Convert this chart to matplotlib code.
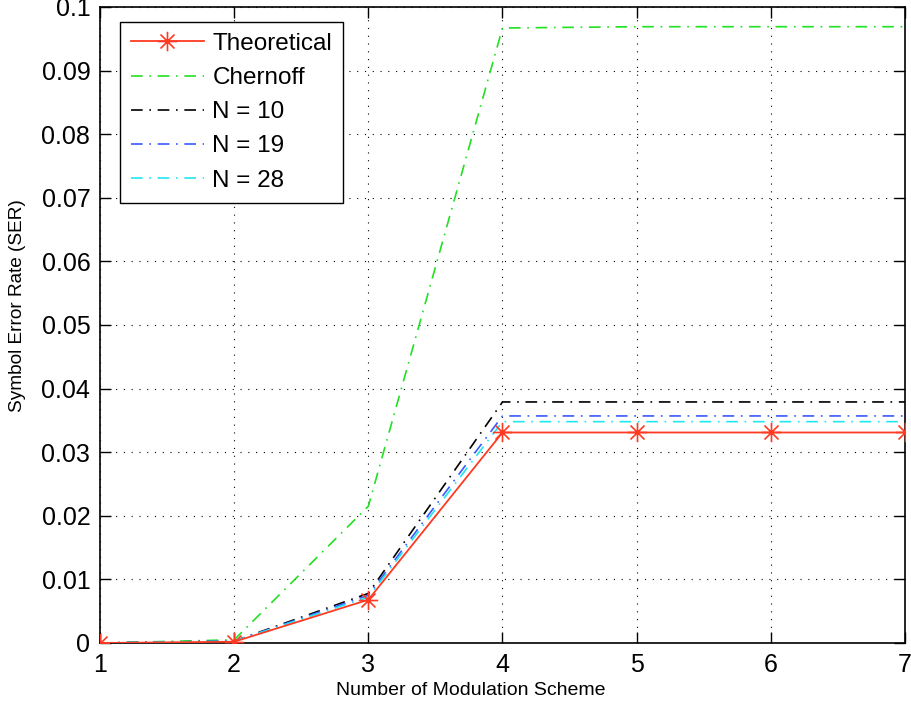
import numpy as np
import matplotlib
matplotlib.use("Agg")
from matplotlib import pyplot as plt
from matplotlib.path import Path

# SER vs modulation scheme index
schemes = [1, 2, 3, 4, 5, 6, 7]
ser_theory = [0.0, 0.0002, 0.0068, 0.0331, 0.0331, 0.0331, 0.0331]
ser_chernoff = [0.0, 0.0005, 0.0215, 0.0967, 0.0969, 0.0969, 0.0969]
ser_n10 = [0.0, 0.0003, 0.0078, 0.0379, 0.0379, 0.0379, 0.0379]
ser_n19 = [0.0, 0.0003, 0.0075, 0.0357, 0.0357, 0.0357, 0.0357]
ser_n28 = [0.0, 0.0003, 0.0072, 0.0348, 0.0348, 0.0348, 0.0348]

plt.rcParams['font.family'] = ['Liberation Sans', 'DejaVu Sans']

# asterisk marker made of line strokes (plus + cross)
d = 0.72
star_verts = [(0, -1), (0, 1), (-1, 0), (1, 0), (-d, -d), (d, d), (-d, d), (d, -d)]
star_codes = [Path.MOVETO, Path.LINETO] * 4
asterisk = Path(star_verts, star_codes)

fig = plt.figure(figsize=(9.12, 7.13), dpi=100)
ax = fig.add_axes([100 / 912, 1 - 643 / 713, 805 / 912, 636 / 713])

dashdot = (0, (7, 4, 1, 4))
ax.plot(schemes, ser_theory, color='#ff3a22', lw=1.3, marker=asterisk, ms=14,
        mew=1.2, mfc='none', label='Theoretical', zorder=5)
ax.plot(schemes, ser_chernoff, color='#22e022', lw=1.2, ls=dashdot, label='Chernoff')
ax.plot(schemes, ser_n10, color='black', lw=1.2, ls=dashdot, label='N = 10')
ax.plot(schemes, ser_n19, color='#3a5aff', lw=1.2, ls=dashdot, label='N = 19')
ax.plot(schemes, ser_n28, color='#22e6f0', lw=1.2, ls=dashdot, label='N = 28')

ax.set_xlim(1, 7)
ax.set_ylim(0, 0.1)
ax.set_xticks(schemes)
yt = np.round(np.arange(0, 0.101, 0.01), 2)
ax.set_yticks(yt)
ax.set_yticklabels(['0'] + ['%g' % v for v in yt[1:]])
ax.tick_params(direction='in', length=8, width=1, top=True, right=True,
               labelsize=18, pad=7)
ax.grid(True, color='black', ls=(0, (1, 6)), lw=0.8)
for s in ax.spines.values():
    s.set_linewidth(1.2)

ax.set_xlabel('Number of Modulation Scheme', fontsize=14, va='center', ha='center')
ax.xaxis.set_label_coords(0.46, -0.074)
ax.set_ylabel('Symbol Error Rate (SER)', fontsize=13.7, va='center', ha='center')
ax.yaxis.set_label_coords(-0.102, 0.531)

leg = ax.legend(loc='upper left', bbox_to_anchor=(120 / 912, 1 - 22 / 713),
                bbox_transform=fig.transFigure, borderaxespad=0,
                fontsize=17.5, handlelength=3.0, labelspacing=0.5,
                borderpad=0.45, handletextpad=0.35,
                fancybox=False, framealpha=1, edgecolor='black')
leg.get_frame().set_linewidth(1.0)

fig.savefig('out.png', dpi=100)
